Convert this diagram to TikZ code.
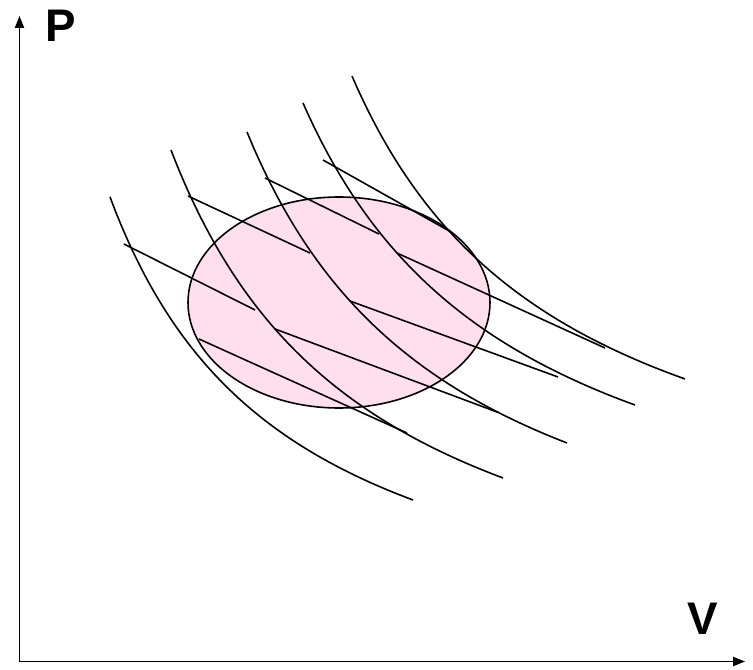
\documentclass[tikz,border=0pt]{standalone}
\usepackage{fontspec}
\setmainfont{Liberation Sans}
\usepackage{tikz}
\usetikzlibrary{arrows.meta}
\definecolor{lightpink}{RGB}{255,223,238}

\begin{document}
\begin{tikzpicture}[>={Triangle[length=6.8pt,width=5.2pt]},
    curve/.style={line width=0.9pt},
    axislabel/.style={font=\fontsize{26}{30}\selectfont\bfseries}]
    \useasboundingbox (0,0) rectangle (15.06,13.38);

    % Region of states
    \draw [line width=0.9pt, fill=lightpink] (6.78,7.33) ellipse (3.02 and 2.11);

    % Axes
    \draw [->, line width=0.9pt] (0.39,0.15) -- (0.39,13.06);
    \draw [->, line width=0.9pt] (0.39,0.15) -- (14.9,0.15);
    \node [axislabel] (plabel) at (1.22,12.86) {P};
    \node [axislabel] (vlabel) at (14.06,1.0) {V};

    % Isotherms
    \foreach \a/\b/\k/\xs/\xe in {-1.4/-0.22/34.78/2.2/8.26,
                                  -0.644/-0.194/42.97/3.42/10.06,
                                  0.694/0.394/43.93/4.94/11.34,
                                  1.63/1.25/44.61/6.06/12.7,
                                  2.728/1.878/43.04/7.04/13.7}
        \draw [curve] plot [domain=\xs:\xe, samples=80, smooth] (\x, {\k/(\x-\a)+\b});

    % Upper steps
    \draw [curve] (2.48,8.50) -- (5.10,7.18);
    \draw [curve] (3.76,9.46) -- (6.20,8.32);
    \draw [curve] (5.30,9.82) -- (7.58,8.70);
    \draw [curve] (6.46,10.18) -- (9.02,8.74);

    % Lower steps
    \draw [curve] (3.98,6.60) -- (8.14,4.72);
    \draw [curve] (5.50,6.80) -- (9.94,5.14);
    \draw [curve] (7.00,7.36) -- (11.16,5.84);
    \draw [curve] (7.94,8.32) -- (12.10,6.42);
\end{tikzpicture}
\end{document}
